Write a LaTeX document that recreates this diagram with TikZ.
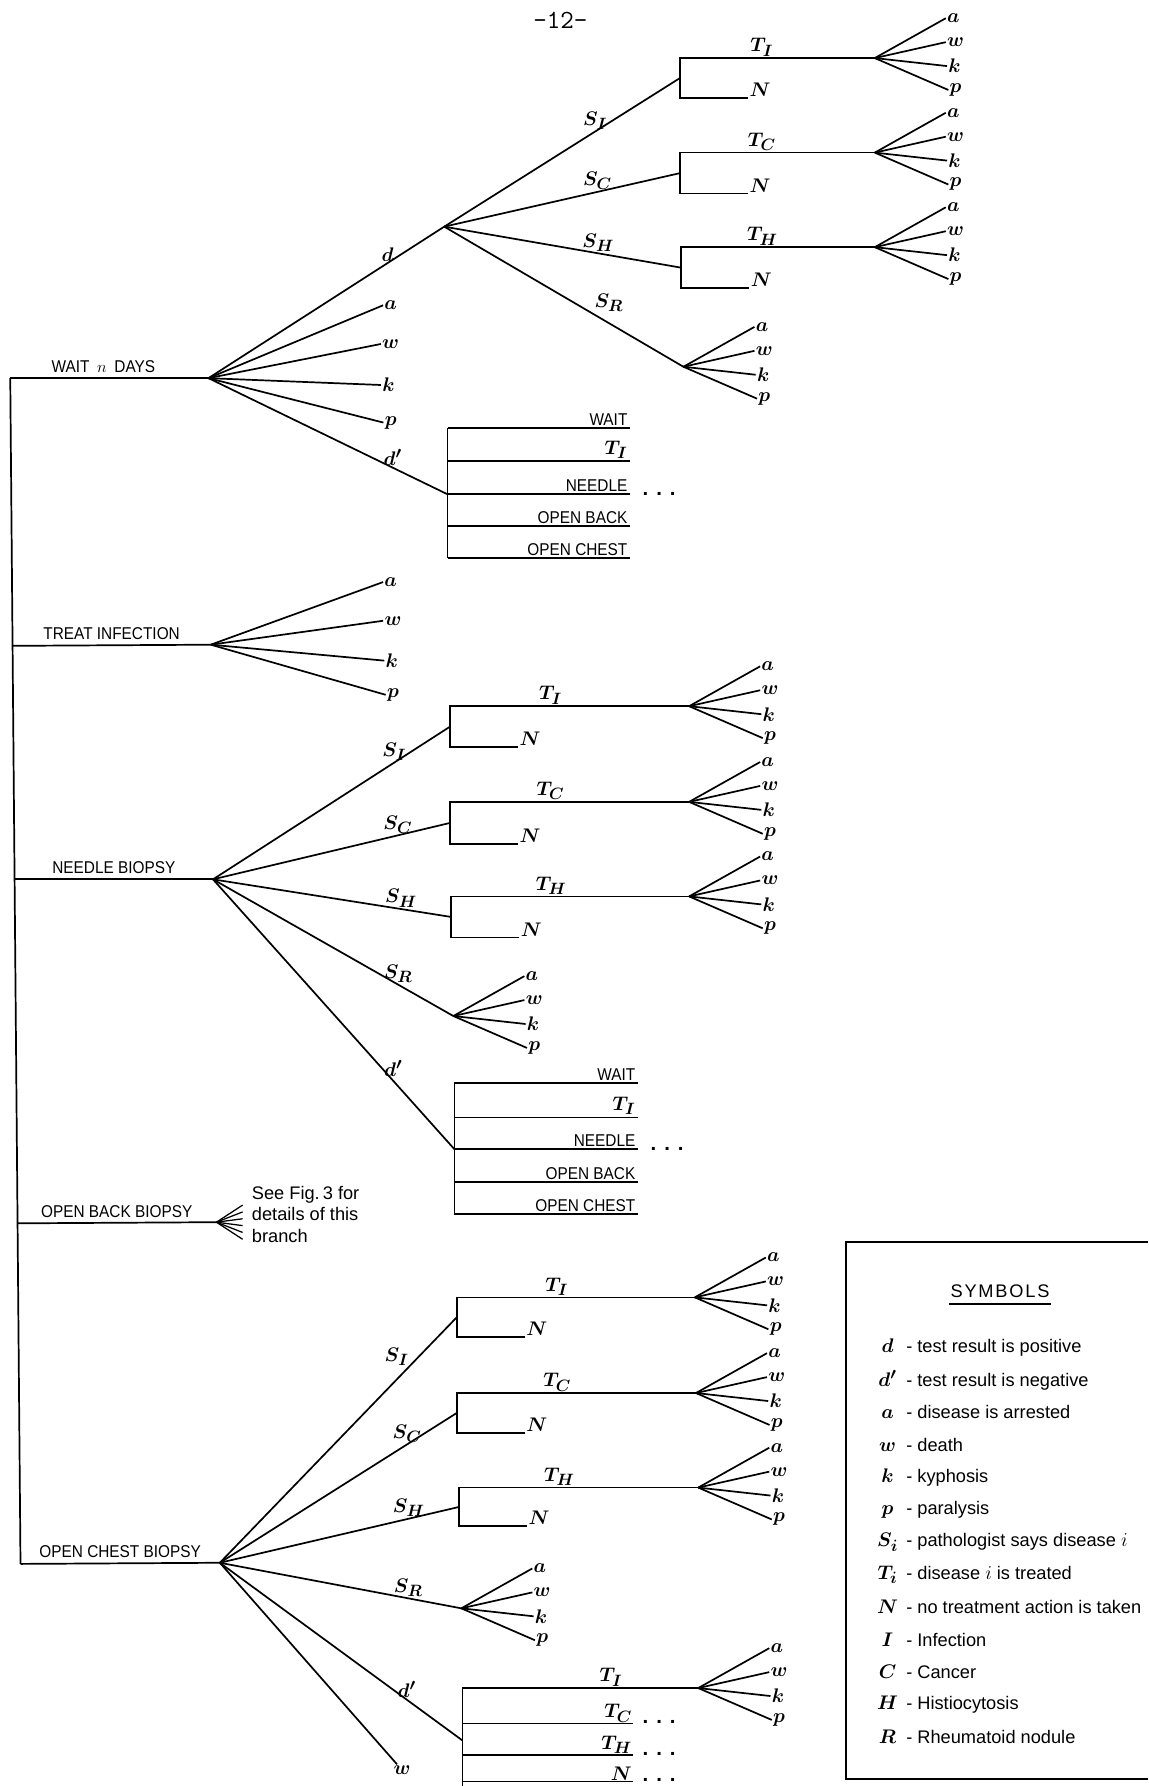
\documentclass[tikz,border=0pt]{standalone}
\usepackage{amsmath}
\usepackage{fontspec}
\usetikzlibrary{calc}
\newfontfamily\leroy[FakeStretch=0.9]{Liberation Sans}
\newfontfamily\leroywide{Liberation Sans}
\newcommand{\capsize}{\leroy\fontsize{15}{18}\selectfont}
\newcommand{\notesize}{\leroywide\fontsize{16}{19}\selectfont}
\newcommand{\mathsize}{\fontsize{19}{22}\selectfont\boldmath}
\newcommand{\dotsize}{\leroywide\fontsize{18}{20}\selectfont\bfseries}
\newcommand{\treatI}{{\mathsize$T_I$}}

% fan of the four outcomes a, w, k, p to the right of an apex
\newcommand{\outcomes}[1]{%
  \foreach \oc/\dx/\dy in {a/69/-35,w/71/-14,k/70/7,p/71/28}{%
    \node[leaf] (#1-\oc) at ($(#1)+(\dx,\dy)$) {$\oc$};
    \draw[branch] (#1) -- (#1-\oc.west);
  }}

% treatment bracket: T branch on top (with outcomes), N branch below
\newcommand{\treatment}[6]{% name, x, y top, y bottom, disease, x of fan
  \coordinate (#1-top) at (#2,#3);
  \coordinate (#1-bot) at (#2,#4);
  \coordinate (#1-in) at (#2,{(#3+#4)/2});
  \coordinate (#1-f) at (#6,#3);
  \node[leaf,anchor=south west] (#1-n) at (#2+60,#4) {$N$};
  \draw[branch] (#1-f) -- node[leaf,pos=.58,above] {$T_{#5}$} (#1-top) -- (#1-bot) -- (#1-n.south west);
  \outcomes{#1-f}}

\begin{document}
\begin{tikzpicture}[x=1pt,y=-1pt,
    every node/.style={inner sep=1pt},
    branch/.style={line width=1.5pt},
    leaf/.style={font=\mathsize},
    act/.style={font=\capsize,inner sep=4pt},
    opt/.style={font=\capsize,anchor=south east,inner sep=2pt},
    etc/.style={font=\dotsize,anchor=base west},
    note/.style={font=\notesize,align=left}
  ]
  \useasboundingbox (0,0) rectangle (1008,1568);
  \node[font=\ttfamily\fontsize{23}{26}\selectfont] (page) at (492,18) {-12-};

  % trunk and the five first decisions
  \coordinate (t1) at (9,332);
  \coordinate (t2) at (11,567);
  \coordinate (t3) at (13,772);
  \coordinate (t4) at (15,1074);
  \coordinate (t5) at (18,1373);
  \draw[branch] (t1) -- (t5);
  \coordinate (wait) at (183,332);
  \coordinate (treat) at (185,566);
  \coordinate (needle) at (187,772);
  \coordinate (back) at (190,1073);
  \coordinate (chest) at (193,1372);
  \draw[branch] (t1) -- node[act,pos=.47,above] {WAIT\hspace{3pt} $n$\hspace{3pt} DAYS} (wait);
  \draw[branch] (t2) -- node[act,pos=.5,above] {TREAT INFECTION} (treat);
  \draw[branch] (t3) -- node[act,pos=.5,above] {NEEDLE BIOPSY} (needle);
  \draw[branch] (t4) -- node[act,pos=.5,above] {OPEN BACK BIOPSY} (back);
  \draw[branch] (t5) -- node[act,pos=.5,above] {OPEN CHEST BIOPSY} (chest);

  % wait n days
  \coordinate (wd) at (390,199);
  \coordinate (wn) at (393,434);
  \draw[branch] (wait) -- node[leaf,pos=.76,above] {$d$} (wd);
  \draw[branch] (wait) -- node[leaf,pos=.77,above] {$d'$} (wn);
  \foreach \oc/\px/\py in {a/343/268,w/343/302,k/341/338,p/343/371}{
    \node[leaf] (wait-\oc) at (\px,\py) {$\oc$};
    \draw[branch] (wait) -- (wait-\oc.west);
  }
  \treatment{wI}{597}{51}{86}{I}{768}
  \treatment{wC}{597}{134}{170}{C}{768}
  \treatment{wH}{598}{217}{253}{H}{768}
  \coordinate (wR) at (600,322);
  \outcomes{wR}
  \draw[branch] (wd) -- node[leaf,pos=.64,above] {$S_I$} (wI-in);
  \draw[branch] (wd) -- node[leaf,pos=.65,above] {$S_C$} (wC-in);
  \draw[branch] (wd) -- node[leaf,pos=.65,above] {$S_H$} (wH-in);
  \draw[branch] (wd) -- node[leaf,pos=.62,above right] {$S_R$} (wR);
  \foreach \lab/\y [count=\n] in {WAIT/376,\treatI/405,NEEDLE/434,OPEN BACK/462,OPEN CHEST/490}{
    \coordinate (wl\n) at (393,\y);
    \node[opt] (wo\n) at (553,\y) {\lab};
    \draw[branch] (wl\n) -- (wo\n.south east);
  }
  \draw[branch] (wl1) -- (wl5);
  \node[etc] (wdots) at (563,435) {.\hspace{7pt}.\hspace{7pt}.};

  % treat infection
  \foreach \oc/\px/\py in {a/343/511,w/345/545,k/344/580,p/345/610}{
    \node[leaf] (treat-\oc) at (\px,\py) {$\oc$};
    \draw[branch] (treat) -- (treat-\oc.west);
  }

  % needle biopsy
  \treatment{nI}{395}{620}{656}{I}{605}
  \treatment{nC}{395}{704}{741}{C}{605}
  \treatment{nH}{396}{787}{823}{H}{605}
  \coordinate (nR) at (398,892);
  \outcomes{nR}
  \coordinate (nn) at (399,1009);
  \draw[branch] (needle) -- node[leaf,pos=.765,above] {$S_I$} (nI-in);
  \draw[branch] (needle) -- node[leaf,pos=.78,above] {$S_C$} (nC-in);
  \draw[branch] (needle) -- node[leaf,pos=.79,above] {$S_H$} (nH-in);
  \draw[branch] (needle) -- node[leaf,pos=.77,above] {$S_R$} (nR);
  \draw[branch] (needle) -- node[leaf,pos=.7,right] {$d'$} (nn);
  \foreach \lab/\y [count=\n] in {WAIT/951,\treatI/981,NEEDLE/1009,OPEN BACK/1038,OPEN CHEST/1066}{
    \coordinate (nl\n) at (399,\y);
    \node[opt] (no\n) at (560,\y) {\lab};
    \draw[branch] (nl\n) -- (no\n.south east);
  }
  \draw[branch] (nl1) -- (nl5);
  \node[etc] (ndots) at (570,1010) {.\hspace{7pt}.\hspace{7pt}.};

  % open back biopsy
  \foreach \dy [count=\n] in {-15,-9,-3,3,9,15}{
    \coordinate (fork\n) at ($(back)+(23,\dy)$);
    \draw[branch,line width=1.1pt] (back) -- (fork\n);
  }
  \node[note,anchor=west] (seefig) at (220,1066) {See Fig.\,3 for\\details of this\\branch};

  % open chest biopsy
  \treatment{cI}{401}{1139}{1174}{I}{610}
  \treatment{cC}{401}{1223}{1258}{C}{611}
  \treatment{cH}{403}{1306}{1340}{H}{613}
  \coordinate (cR) at (405,1412);
  \outcomes{cR}
  \coordinate (cn) at (406,1528);
  \node[leaf] (cw) at (353,1554) {$w$};
  \draw[branch] (chest) -- node[leaf,pos=.8,above left,inner sep=0pt] {$S_I$} (cI-in);
  \draw[branch] (chest) -- node[leaf,pos=.79,above] {$S_C$} (cC-in);
  \draw[branch] (chest) -- node[leaf,pos=.79,above] {$S_H$} (cH-in);
  \draw[branch] (chest) -- node[leaf,pos=.78,above] {$S_R$} (cR);
  \draw[branch] (chest) -- node[leaf,pos=.77,above] {$d'$} (cn);
  \draw[branch] (chest) -- (cw);
  \coordinate (cl1) at (406,1482);
  \coordinate (cT-f) at (613,1482);
  \draw[branch] (cl1) -- node[leaf,pos=.63,above] {$T_I$} (cT-f);
  \outcomes{cT-f}
  \foreach \lab/\y [count=\n from 2] in {T_C/1513,T_H/1541,N/1564}{
    \coordinate (cl\n) at (406,\y);
    \node[leaf,anchor=south east] (co\n) at (556,\y) {$\lab$};
    \draw[branch] (cl\n) -- (co\n.south east);
    \node[etc] (cdots\n) at (563,\y) {.\hspace{7pt}.\hspace{7pt}.};
  }
  \coordinate (cend) at (406,1568);
  \draw[branch] (cl1) -- (cend);

  % symbols
  \coordinate (sy1) at (1008,1090);
  \coordinate (sy2) at (743,1090);
  \coordinate (sy3) at (743,1562);
  \coordinate (sy4) at (1008,1562);
  \draw[line width=1.8pt] (sy1) -- (sy2) -- (sy3) -- (sy4);
  \node[font=\notesize,inner xsep=1pt,inner ysep=5pt] (symtitle) at (878,1134) {\addfontfeatures{LetterSpace=10}SYMBOLS};
  \draw[line width=1.2pt] (symtitle.south west) -- (symtitle.south east);
  \foreach \sym/\txt [count=\n from 0] in {d/test result is positive,d'/test result is negative,a/disease is arrested,w/death,k/kyphosis,p/paralysis,S_i/pathologist says disease $i$,T_i/disease $i$ is treated,N/no treatment action is taken,I/Infection,C/Cancer,H/Histiocytosis,R/Rheumatoid nodule}{
    \node[note,anchor=west] (sym\n) at (766,{1183+28.5*\n}) {\makebox[24pt]{\mathsize$\sym$} - \txt};
  }
\end{tikzpicture}
\end{document}
